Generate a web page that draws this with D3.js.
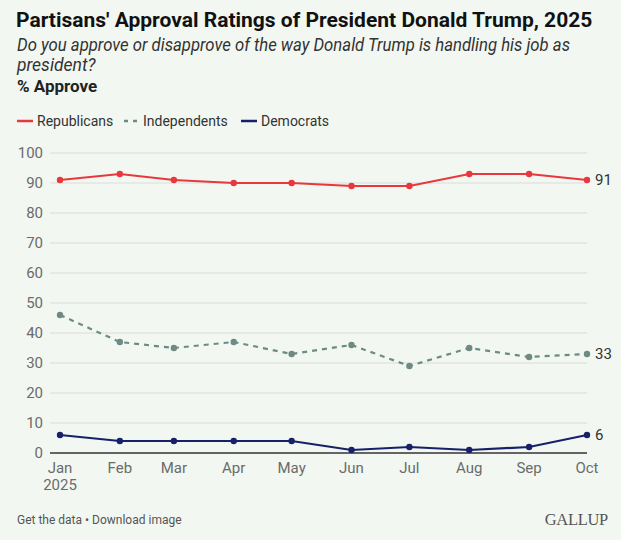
<!DOCTYPE html>
<html>
<head>
<meta charset="utf-8">
<script src="https://cdn.jsdelivr.net/npm/d3@7"></script>
<style>
  body { margin: 0; background: #f2f8f1; }
  svg { display: block; font-family: Roboto, "Noto Sans", sans-serif; }
</style>
</head>
<body>
<svg id="svg" width="621" height="540"></svg>
<script>
"use strict";

const months = ["2025-01-01", "2025-02-01", "2025-03-01", "2025-04-01", "2025-05-01",
                "2025-06-01", "2025-07-01", "2025-08-01", "2025-09-01", "2025-10-01"];
const monthLabels = ["Jan", "Feb", "Mar", "Apr", "May", "Jun", "Jul", "Aug", "Sep", "Oct"];
const republicans = [91, 93, 91, 90, 90, 89, 89, 93, 93, 91];
const independents = [46, 37, 35, 37, 33, 36, 29, 35, 32, 33];
const democrats = [6, 4, 4, 4, 4, 1, 2, 1, 2, 6];
const yTicks = [0, 10, 20, 30, 40, 50, 60, 70, 80, 90, 100];

const parseDate = d3.timeParse("%Y-%m-%d");
const dates = months.map(parseDate);

const series = [
    { name: "Republicans", values: republicans, color: "#e8383d", dash: null },
    { name: "Independents", values: independents, color: "#6e8a85", dash: "5,5" },
    { name: "Democrats", values: democrats, color: "#16216a", dash: null }
];

var svg = d3.select("svg");

var x = d3.scaleTime()
    .domain([dates[0], dates[dates.length - 1]])
    .range([60, 587]);

var y = d3.scaleLinear()
    .domain([0, 100])
    .range([453, 153]);

// titles
svg.append("text")
    .attr("x", 16).attr("y", 27)
    .attr("font-size", 21).attr("font-weight", "bold").attr("fill", "#111")
    .text("Partisans' Approval Ratings of President Donald Trump, 2025");

svg.append("text")
    .attr("x", 17).attr("y", 51)
    .attr("font-size", 17.5).attr("font-style", "italic").attr("fill", "#333")
    .attr("textLength", 553).attr("lengthAdjust", "spacingAndGlyphs")
    .text("Do you approve or disapprove of the way Donald Trump is handling his job as");
svg.append("text")
    .attr("x", 17).attr("y", 71)
    .attr("font-size", 17.5).attr("font-style", "italic").attr("fill", "#333")
    .text("president?");

svg.append("text")
    .attr("x", 17).attr("y", 92)
    .attr("font-size", 17).attr("font-weight", "bold").attr("fill", "#222")
    .text("% Approve");

// legend
var legendX = [17, 124, 241];
var legend = svg.append("g").selectAll("g")
    .data(series)
    .enter()
    .append("g")
    .attr("transform", (d, i) => "translate(" + legendX[i] + ",121)");
legend.append("line")
    .attr("x1", 0).attr("x2", d => d.dash ? 14 : 16)
    .attr("stroke", d => d.color)
    .attr("stroke-width", 2.5)
    .attr("stroke-dasharray", d => d.dash ? "4,5" : null);
legend.append("text")
    .attr("x", d => d.dash ? 19 : 20).attr("y", 4.5)
    .attr("font-size", 14).attr("fill", "#333")
    .text(d => d.name);

// gridlines + y labels
var grid = svg.append("g");
grid.selectAll("line")
    .data(yTicks)
    .enter()
    .append("line")
    .attr("x1", 50).attr("x2", 587)
    .attr("y1", d => y(d)).attr("y2", d => y(d))
    .attr("stroke", d => d === 0 ? "#333" : "#d9dcd7")
    .attr("stroke-width", d => d === 0 ? 1.5 : 1);
grid.selectAll("text")
    .data(yTicks)
    .enter()
    .append("text")
    .attr("x", 43).attr("y", d => y(d) + 5)
    .attr("text-anchor", "end")
    .attr("font-size", 15).attr("fill", "#6b6b6b")
    .text(d => d);

// x labels
var xl = svg.append("g");
xl.selectAll("text")
    .data(dates)
    .enter()
    .append("text")
    .attr("x", d => x(d)).attr("y", 473)
    .attr("text-anchor", "middle")
    .attr("font-size", 15).attr("fill", "#6b6b6b")
    .text((d, i) => monthLabels[i]);
xl.append("text")
    .attr("x", x(dates[0])).attr("y", 490)
    .attr("text-anchor", "middle")
    .attr("font-size", 15).attr("fill", "#6b6b6b")
    .text("2025");

// lines
var line = d3.line()
    .x((d, i) => x(dates[i]))
    .y(d => y(d));

var lines = svg.append("g").selectAll("g")
    .data(series)
    .enter()
    .append("g");

lines.append("path")
    .attr("d", d => line(d.values))
    .attr("fill", "none")
    .attr("stroke", d => d.color)
    .attr("stroke-width", 2.2)
    .attr("stroke-dasharray", d => d.dash);

lines.selectAll("circle")
    .data(d => d.values.map((v, i) => ({ v: v, i: i, color: d.color })))
    .enter()
    .append("circle")
    .attr("cx", d => x(dates[d.i]))
    .attr("cy", d => y(d.v))
    .attr("r", 3.2)
    .attr("fill", d => d.color);

lines.append("text")
    .attr("x", 595)
    .attr("y", d => y(d.values[d.values.length - 1]) + 5)
    .attr("font-size", 15).attr("fill", "#333")
    .text(d => d.values[d.values.length - 1]);

// footer
svg.append("text")
    .attr("x", 17).attr("y", 524)
    .attr("font-size", 12).attr("fill", "#555")
    .text("Get the data \u2022 Download image");
svg.append("text")
    .attr("x", 608).attr("y", 525)
    .attr("text-anchor", "end")
    .attr("font-family", "'Liberation Serif', 'DejaVu Serif', serif")
    .attr("font-size", 16.5).attr("fill", "#555")
    .attr("letter-spacing", -0.3)
    .text("GALLUP");
</script>
</body>
</html>
